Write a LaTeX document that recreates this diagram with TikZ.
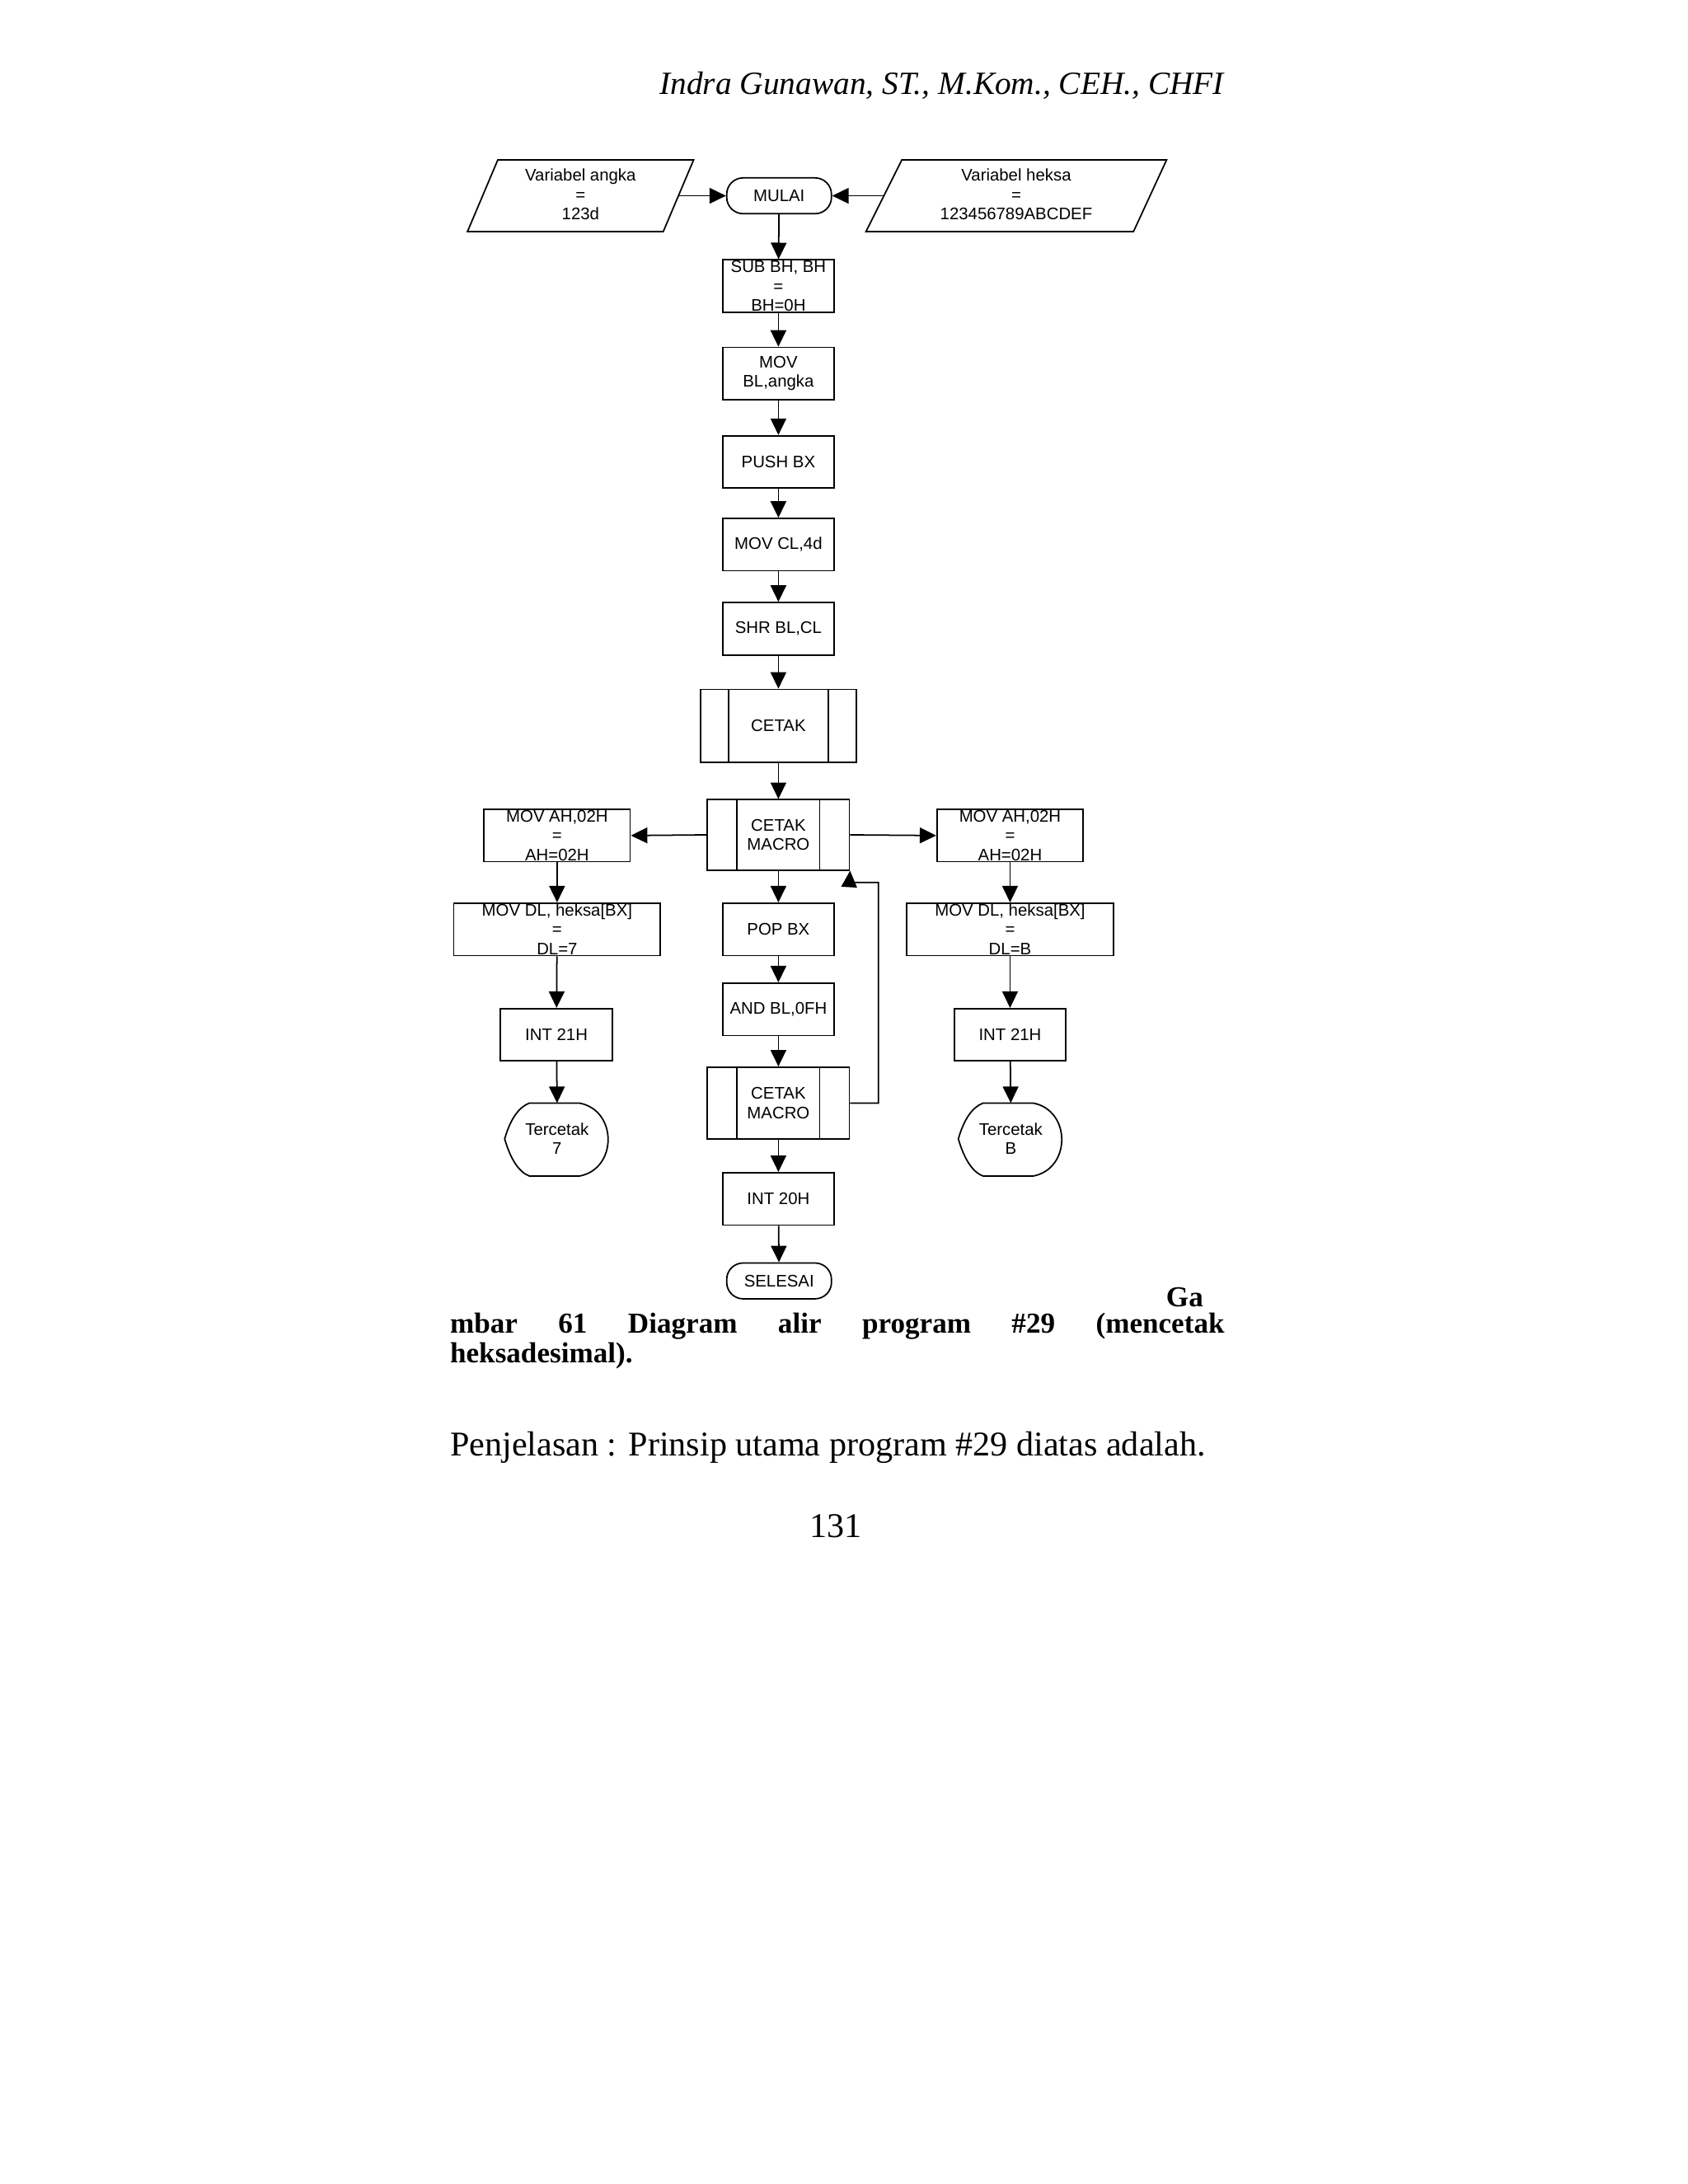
\documentclass[tikz,border=0pt]{standalone}
\usepackage{fontspec}
\setmainfont{Liberation Serif}
\newfontfamily\af{Liberation Sans}
\usetikzlibrary{arrows.meta}
\begin{document}
\begin{tikzpicture}[x=0.016732cm,y=-0.016732cm,
  every node/.style={font=\af\fontsize{5.8}{6.6}\selectfont,align=center,inner sep=0pt},
  box/.style={draw,line width=0.5pt,minimum width=1.355cm,minimum height=0.636cm},
  term/.style={draw,line width=0.5pt,rounded corners=0.2cm,minimum width=1.272cm,minimum height=0.435cm},
  arr/.style={line width=0.5pt,-{Triangle[length=0.2cm,width=0.19cm]}},
  ln/.style={line width=0.5pt}]
\useasboundingbox (0,0) rectangle (1224,1584);
% header
\node[font=\fontsize{11.2}{13}\selectfont\itshape,anchor=east] (hdr) at (888,62) {Indra Gunawan, ST., M.Kom., CEH., CHFI};
% parallelograms
\draw[ln] (361,116) -- (503,116) -- (481,168) -- (339,168) -- cycle;
\node (pl) at (421,141) {Variabel angka\\=\\123d};
\coordinate (pla) at (492,142);
\draw[ln] (654,116) -- (846,116) -- (822,168) -- (628,168) -- cycle;
\node (pr) at (737,141) {Variabel heksa\\=\\123456789ABCDEF};
\coordinate (pra) at (641,142);
\node[term] (mulai) at (565,142) {MULAI};
\draw[arr] (pla) -- (mulai.west);
\draw[arr] (pra) -- (mulai.east);
% main column
\node[box] (sub) at (564.5,207.5) {SUB BH, BH\\=\\BH=0H};
\node[box] (movbl) at (564.5,271) {MOV\\BL,angka};
\node[box] (push) at (564.5,335) {PUSH BX};
\node[box] (movcl) at (564.5,395) {MOV CL,4d};
\node[box] (shr) at (564.5,456) {SHR BL,CL};
\node[draw,line width=0.5pt,minimum width=1.891cm,minimum height=0.887cm] (cetak) at (564.5,526.5) {CETAK};
\draw[ln] ([xshift=0.351cm]cetak.north west) -- ([xshift=0.351cm]cetak.south west);
\draw[ln] ([xshift=-0.351cm]cetak.north east) -- ([xshift=-0.351cm]cetak.south east);
\node[draw,line width=0.5pt,minimum width=1.723cm,minimum height=0.853cm] (cm1) at (564.5,605.5) {CETAK\\MACRO};
\draw[ln] ([xshift=0.368cm]cm1.north west) -- ([xshift=0.368cm]cm1.south west);
\draw[ln] ([xshift=-0.368cm]cm1.north east) -- ([xshift=-0.368cm]cm1.south east);
\node[box] (pop) at (564.5,674) {POP BX};
\node[box] (and) at (564.5,732) {AND BL,0FH};
\node[draw,line width=0.5pt,minimum width=1.723cm,minimum height=0.87cm] (cm2) at (564.5,800) {CETAK\\MACRO};
\draw[ln] ([xshift=0.368cm]cm2.north west) -- ([xshift=0.368cm]cm2.south west);
\draw[ln] ([xshift=-0.368cm]cm2.north east) -- ([xshift=-0.368cm]cm2.south east);
\node[box] (int20) at (564.5,869.5) {INT 20H};
\node[term] (selesai) at (565,929) {SELESAI};
\draw[arr] (mulai) -- (sub);
\draw[arr] (sub) -- (movbl);
\draw[arr] (movbl) -- (push);
\draw[arr] (push) -- (movcl);
\draw[arr] (movcl) -- (shr);
\draw[arr] (shr) -- (cetak);
\draw[arr] (cetak) -- (cm1);
\draw[arr] (cm1) -- (pop);
\draw[arr] (pop) -- (and);
\draw[arr] (and) -- (cm2);
\draw[arr] (cm2) -- (int20);
\draw[arr] (int20) -- (selesai);
\coordinate (fb1) at (637,800);
\coordinate (fb2) at (637,640);
\coordinate (fb3) at (616,640);
\draw[arr] (cm2.east) -- (fb1) -- (fb2) -- (fb3) -- (cm1.south east);
% left branch
\node[box,minimum width=1.774cm] (lah) at (404,606) {MOV AH,02H\\=\\AH=02H};
\node[box,minimum width=2.51cm] (ldl) at (404,674) {MOV DL, heksa[BX]\\=\\DL=7};
\node[box] (lint) at (403.5,750.5) {INT 21H};
\draw[ln] (366,826) .. controls (370,812) and (376,803) .. (384,800) -- (420,800) .. controls (448,805) and (448,848) .. (420,853) -- (384,853) .. controls (376,850) and (370,840) .. (366,826) -- cycle;
\node (lt) at (404,826) {Tercetak\\7};
\coordinate (ltop) at (404,800);
\draw[arr] (cm1.west) -- (lah.east);
\draw[arr] (lah) -- (ldl);
\draw[arr] (ldl) -- (lint);
\draw[arr] (lint) -- (ltop);
% right branch
\node[box,minimum width=1.774cm] (rah) at (732.5,606) {MOV AH,02H\\=\\AH=02H};
\node[box,minimum width=2.51cm] (rdl) at (732.5,674) {MOV DL, heksa[BX]\\=\\DL=B};
\node[box] (rint) at (732.5,750.5) {INT 21H};
\draw[ln] (695,826) .. controls (699,812) and (705,803) .. (713,800) -- (749,800) .. controls (777,805) and (777,848) .. (749,853) -- (713,853) .. controls (705,850) and (699,840) .. (695,826) -- cycle;
\node (rt) at (733,826) {Tercetak\\B};
\coordinate (rtop) at (733,800);
\draw[arr] (cm1.east) -- (rah.west);
\draw[arr] (rah) -- (rdl);
\draw[arr] (rdl) -- (rint);
\draw[arr] (rint) -- (rtop);
% caption
\node[font=\fontsize{10}{12}\selectfont\bfseries,anchor=east] (c1) at (873,941) {Ga};
\node[font=\fontsize{10}{12}\selectfont\bfseries,anchor=west,text width=9.40cm,align=left] (c2) at (326,962) {mbar\hfill 61\hfill Diagram\hfill alir\hfill program\hfill \#29\hfill (mencetak};
\node[font=\fontsize{10}{12}\selectfont\bfseries,anchor=west] (c3) at (326,983) {heksadesimal).};
\node[font=\fontsize{12}{14}\selectfont,anchor=west] (pj) at (326,1050) {Penjelasan : Prinsip utama program \#29 diatas adalah.};
\node[font=\fontsize{12}{14}\selectfont] (pg) at (606,1107) {131};
\end{tikzpicture}
\end{document}
